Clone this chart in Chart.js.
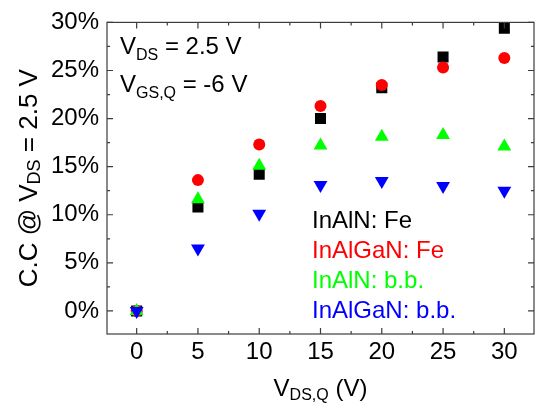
<!DOCTYPE html>
<html>
<head>
<meta charset="utf-8">
<script src="https://cdn.jsdelivr.net/npm/chart.js@4/dist/chart.umd.min.js"></script>
<style>
html, body { margin: 0; padding: 0; background: #fff; }
#wrap { width: 542px; height: 410px; position: relative; }
</style>
</head>
<body>
<div id="wrap"><canvas id="chart"></canvas></div>
<script>
'use strict';

// data (current collapse in %)
const drainBias = [0, 5, 10, 15, 20, 25, 30];
const inalnFe = [0, 10.8, 14.2, 20.0, 23.2, 26.4, 29.4];
const inalganFe = [0, 13.6, 17.3, 21.3, 23.5, 25.3, 26.3];
const inalnBB = [0, 11.6, 15.1, 17.2, 18.1, 18.3, 17.1];
const inalganBB = [0, 6.5, 10.1, 13.1, 13.5, 13.0, 12.5];

const xTicks = [0, 5, 10, 15, 20, 25, 30];
const yTicks = [0, 5, 10, 15, 20, 25, 30];

const FONT = '"Liberation Sans", Arial, sans-serif';
const AXIS = '#3c3c3c';

function toPoints(ys) {
  return drainBias.map((x, i) => ({ x: x, y: ys[i] }));
}

// draw a string made of [text, isSub] pieces
function richWidth(ctx, parts, size, subSize) {
  let w = 0;
  parts.forEach(p => {
    ctx.font = (p[1] ? subSize : size) + 'px ' + FONT;
    w += ctx.measureText(p[0]).width;
  });
  return w;
}
function drawRich(ctx, parts, x, y, size, subSize, drop) {
  let cx = x;
  parts.forEach(p => {
    ctx.font = (p[1] ? subSize : size) + 'px ' + FONT;
    ctx.fillText(p[0], cx, p[1] ? y + drop : y);
    cx += ctx.measureText(p[0]).width;
  });
}

const framePlugin = {
  id: 'frame',
  afterDraw(chart) {
    const ctx = chart.ctx;
    const a = chart.chartArea;
    const xs = chart.scales.x;
    const ys = chart.scales.y;
    ctx.save();
    ctx.strokeStyle = AXIS;
    ctx.lineWidth = 1.2;
    ctx.strokeRect(a.left, a.top, a.right - a.left, a.bottom - a.top);

    ctx.beginPath();
    xTicks.forEach((v, i) => {
      const px = xs.getPixelForValue(v);
      ctx.moveTo(px, a.bottom); ctx.lineTo(px, a.bottom - 6);
      ctx.moveTo(px, a.top); ctx.lineTo(px, a.top + 6);
      const m = xs.getPixelForValue(v + 2.5);
      if (i < xTicks.length - 1) {
        ctx.moveTo(m, a.bottom); ctx.lineTo(m, a.bottom - 3);
        ctx.moveTo(m, a.top); ctx.lineTo(m, a.top + 3);
      }
    });
    yTicks.forEach((v, i) => {
      const py = ys.getPixelForValue(v);
      ctx.moveTo(a.left, py); ctx.lineTo(a.left + 6, py);
      ctx.moveTo(a.right, py); ctx.lineTo(a.right - 6, py);
      if (i < yTicks.length - 1) {
        const m = ys.getPixelForValue(v + 2.5);
        ctx.moveTo(a.left, m); ctx.lineTo(a.left + 3, m);
        ctx.moveTo(a.right, m); ctx.lineTo(a.right - 3, m);
      }
    });
    ctx.stroke();

    ctx.fillStyle = '#000';
    ctx.textBaseline = 'alphabetic';
    ctx.textAlign = 'left';

    // conditions
    drawRich(ctx, [['V', 0], ['DS', 1], [' = 2.5 V', 0]], 120, 54, 24, 16, 6);
    drawRich(ctx, [['V', 0], ['GS,Q', 1], [' = -6 V', 0]], 120, 92, 24, 16, 6);

    // legend text only
    chart.data.datasets
      .slice()
      .sort((p, q) => q.order - p.order)
      .forEach((ds, i) => {
        ctx.font = '24px ' + FONT;
        ctx.fillStyle = ds.backgroundColor;
        ctx.fillText(ds.label, 312, 228 + i * 30);
      });

    // x title
    ctx.fillStyle = '#000';
    const xParts = [['V', 0], ['DS,Q', 1], [' (V)', 0]];
    const xw = richWidth(ctx, xParts, 24, 16);
    drawRich(ctx, xParts, (a.left + a.right) / 2 - xw / 2, 396, 24, 16, 4);

    // y title
    const yParts = [['C.C @ V', 0], ['DS', 1], [' = 2.5 V', 0]];
    const yw = richWidth(ctx, yParts, 26, 18);
    ctx.translate(37, (a.top + a.bottom) / 2);
    ctx.rotate(-Math.PI / 2);
    drawRich(ctx, yParts, -yw / 2, 0, 26, 18, 3);
    ctx.restore();
  }
};

const canvasElem = document.getElementById('chart');

const data = {
  datasets: [
    {
      label: 'InAlN: Fe',
      data: toPoints(inalnFe),
      pointStyle: 'rect',
      pointRadius: 7.8,
      backgroundColor: '#000000',
      borderColor: '#000000',
      borderWidth: 0,
      order: 4
    },
    {
      label: 'InAlGaN: Fe',
      data: toPoints(inalganFe),
      pointStyle: 'circle',
      pointRadius: 6,
      backgroundColor: '#ff0000',
      borderColor: '#ff0000',
      borderWidth: 0,
      order: 3
    },
    {
      label: 'InAlN: b.b.',
      data: toPoints(inalnBB),
      pointStyle: 'triangle',
      pointRadius: 8,
      backgroundColor: '#00ff00',
      borderColor: '#00ff00',
      borderWidth: 0,
      order: 2
    },
    {
      label: 'InAlGaN: b.b.',
      data: toPoints(inalganBB),
      pointStyle: 'triangle',
      rotation: 180,
      pointRadius: 8,
      backgroundColor: '#0000ff',
      borderColor: '#0000ff',
      borderWidth: 0,
      order: 1
    }
  ]
};

const config = {
  type: 'scatter',
  data: data,
  options: {
    responsive: true,
    maintainAspectRatio: false,
    animation: false,
    layout: { padding: { left: 0, right: 4, top: 18, bottom: 0 } },
    plugins: {
      legend: { display: false },
      tooltip: { enabled: false }
    },
    scales: {
      x: {
        type: 'linear',
        min: -2.42,
        max: 32.42,
        afterBuildTicks: s => { s.ticks = xTicks.map(v => ({ value: v })); },
        afterFit: s => { s.height = 76; },
        grid: { display: false, drawTicks: false },
        border: { display: false },
        ticks: {
          padding: 4,
          color: '#000',
          font: { family: FONT, size: 24 },
          maxRotation: 0
        }
      },
      y: {
        type: 'linear',
        min: -2.4,
        max: 30,
        afterBuildTicks: s => { s.ticks = yTicks.map(v => ({ value: v })); },
        afterFit: s => { s.width = 107; },
        grid: { display: false, drawTicks: false },
        border: { display: false },
        ticks: {
          padding: 8,
          color: '#000',
          font: { family: FONT, size: 24 },
          callback: v => v + '%'
        }
      }
    }
  },
  plugins: [framePlugin]
};

const myChart = new Chart(canvasElem, config);
</script>
</body>
</html>
